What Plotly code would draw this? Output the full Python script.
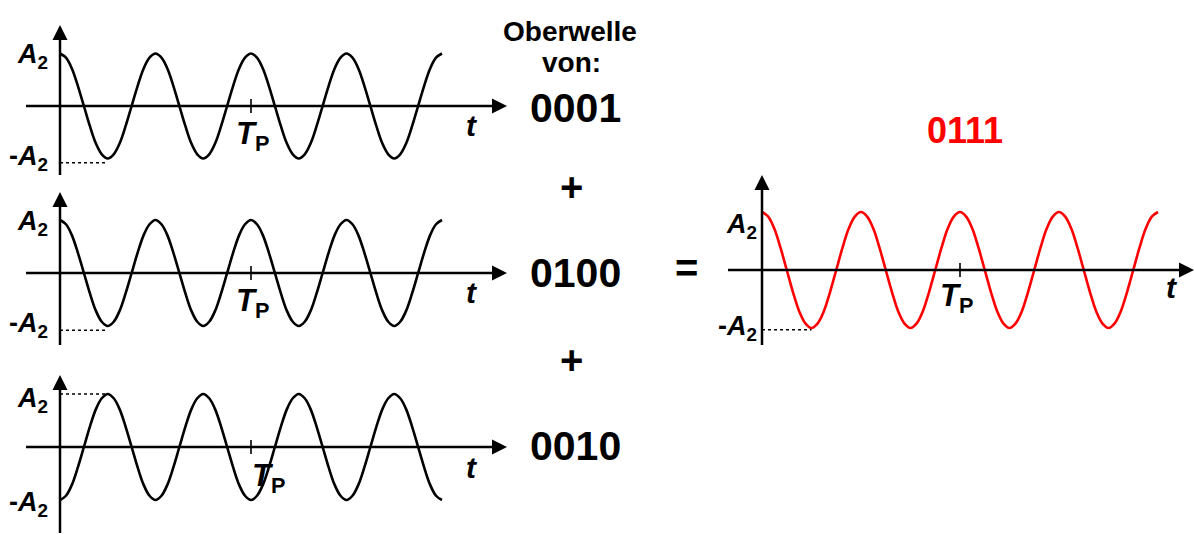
import plotly.graph_objects as go

W, H = 1195, 534
FONT = "Liberation Sans, Arial, sans-serif"

# sampling instants, in fundamental periods (16 per period)
t_periods = [0.0, 0.0625, 0.125, 0.1875, 0.25, 0.3125, 0.375, 0.4375,
             0.5, 0.5625, 0.625, 0.6875, 0.75, 0.8125, 0.875, 0.9375,
             1.0, 1.0625, 1.125, 1.1875, 1.25, 1.3125, 1.375, 1.4375,
             1.5, 1.5625, 1.625, 1.6875, 1.75, 1.8125, 1.875, 1.9375,
             2.0, 2.0625, 2.125, 2.1875, 2.25, 2.3125, 2.375, 2.4375,
             2.5, 2.5625, 2.625, 2.6875, 2.75, 2.8125, 2.875, 2.9375,
             3.0, 3.0625, 3.125, 3.1875, 3.25, 3.3125, 3.375, 3.4375,
             3.5, 3.5625, 3.625, 3.6875, 3.75, 3.8125, 3.875, 3.9375,
             4.0]

# harmonic level (in units of A2) at each sampling instant
wave_0001 = [1.0, 0.92, 0.71, 0.38, 0.0, -0.38, -0.71, -0.92,
             -1.0, -0.92, -0.71, -0.38, 0.0, 0.38, 0.71, 0.92,
             1.0, 0.92, 0.71, 0.38, 0.0, -0.38, -0.71, -0.92,
             -1.0, -0.92, -0.71, -0.38, 0.0, 0.38, 0.71, 0.92,
             1.0, 0.92, 0.71, 0.38, 0.0, -0.38, -0.71, -0.92,
             -1.0, -0.92, -0.71, -0.38, 0.0, 0.38, 0.71, 0.92,
             1.0, 0.92, 0.71, 0.38, 0.0, -0.38, -0.71, -0.92,
             -1.0, -0.92, -0.71, -0.38, 0.0, 0.38, 0.71, 0.92,
             1.0]
wave_0100 = [1.0, 0.92, 0.71, 0.38, 0.0, -0.38, -0.71, -0.92,
             -1.0, -0.92, -0.71, -0.38, 0.0, 0.38, 0.71, 0.92,
             1.0, 0.92, 0.71, 0.38, 0.0, -0.38, -0.71, -0.92,
             -1.0, -0.92, -0.71, -0.38, 0.0, 0.38, 0.71, 0.92,
             1.0, 0.92, 0.71, 0.38, 0.0, -0.38, -0.71, -0.92,
             -1.0, -0.92, -0.71, -0.38, 0.0, 0.38, 0.71, 0.92,
             1.0, 0.92, 0.71, 0.38, 0.0, -0.38, -0.71, -0.92,
             -1.0, -0.92, -0.71, -0.38, 0.0, 0.38, 0.71, 0.92,
             1.0]
wave_0010 = [-1.0, -0.92, -0.71, -0.38, 0.0, 0.38, 0.71, 0.92,
             1.0, 0.92, 0.71, 0.38, 0.0, -0.38, -0.71, -0.92,
             -1.0, -0.92, -0.71, -0.38, 0.0, 0.38, 0.71, 0.92,
             1.0, 0.92, 0.71, 0.38, 0.0, -0.38, -0.71, -0.92,
             -1.0, -0.92, -0.71, -0.38, 0.0, 0.38, 0.71, 0.92,
             1.0, 0.92, 0.71, 0.38, 0.0, -0.38, -0.71, -0.92,
             -1.0, -0.92, -0.71, -0.38, 0.0, 0.38, 0.71, 0.92,
             1.0, 0.92, 0.71, 0.38, 0.0, -0.38, -0.71, -0.92,
             -1.0]
wave_0111 = [1.0, 0.92, 0.71, 0.38, 0.0, -0.38, -0.71, -0.92,
             -1.0, -0.92, -0.71, -0.38, 0.0, 0.38, 0.71, 0.92,
             1.0, 0.92, 0.71, 0.38, 0.0, -0.38, -0.71, -0.92,
             -1.0, -0.92, -0.71, -0.38, 0.0, 0.38, 0.71, 0.92,
             1.0, 0.92, 0.71, 0.38, 0.0, -0.38, -0.71, -0.92,
             -1.0, -0.92, -0.71, -0.38, 0.0, 0.38, 0.71, 0.92,
             1.0, 0.92, 0.71, 0.38, 0.0, -0.38, -0.71, -0.92,
             -1.0, -0.92, -0.71, -0.38, 0.0, 0.38, 0.71, 0.92,
             1.0]

codes = ["0001", "0100", "0010", "0111"]
T_P = 2.0          # pulse period, in fundamental periods
TROUGH_IDX = 8     # first extremum after t = 0 (half a period)

# panel geometry (pixels): origin, px per period, px per A2, plotting box,
# axis extents, dotted level offset, label placement
panels = [
    dict(wave=wave_0001, color="black", origin=(60, 106), sx=95.5, sy=52.5,
         box=(0, 522, 0, 182), xaxis=(26, 507), yaxis=(25, 175),
         dot_off=-0.08,
         a_top=(50, 56), a_bot=(50, 158), tp=(252.5, 136), t=(472, 125)),
    dict(wave=wave_0100, color="black", origin=(60, 273), sx=95.5, sy=53,
         box=(0, 522, 184, 352), xaxis=(26, 507), yaxis=(192, 345),
         dot_off=-0.08,
         a_top=(50, 223), a_bot=(50, 325), tp=(252.5, 303), t=(472, 292)),
    dict(wave=wave_0010, color="black", origin=(60, 447), sx=95.5, sy=53,
         box=(0, 522, 356, 534), xaxis=(26, 507), yaxis=(375, 533),
         dot_off=0.0,
         a_top=(50, 400), a_bot=(50, 504), tp=(268, 478), t=(472, 467)),
    dict(wave=wave_0111, color="#ff0000", origin=(762, 270), sx=99, sy=58,
         box=(700, 1195, 160, 360), xaxis=(728, 1194), yaxis=(175, 345),
         dot_off=-0.03,
         a_top=(759, 226), a_bot=(759, 328), tp=(957, 298), t=(1172, 287)),
]

fig = go.Figure()
annotations = []
shapes = []
layout_axes = {}
ARROW = 15   # arrowhead size, px


def px(x):
    return x / W


def py(y):
    return 1 - y / H


for i, p in enumerate(panels):
    n = "" if i == 0 else str(i + 1)
    xa, ya = "x" + n, "y" + n
    ox, oy = p["origin"]
    sx, sy = p["sx"], p["sy"]
    bx0, bx1, by0, by1 = p["box"]

    def dx(v, ox=ox, sx=sx):
        return (v - ox) / sx

    def dy(v, oy=oy, sy=sy):
        return (oy - v) / sy

    layout_axes["xaxis" + n] = dict(domain=[px(bx0), px(bx1)],
                                    range=[dx(bx0), dx(bx1)],
                                    visible=False, fixedrange=True, anchor=ya)
    layout_axes["yaxis" + n] = dict(domain=[py(by1), py(by0)],
                                    range=[dy(by1), dy(by0)],
                                    visible=False, fixedrange=True, anchor=xa)

    # time axis and amplitude axis
    xl0, xl1 = p["xaxis"]
    yl0, yl1 = p["yaxis"]
    shapes.append(dict(type="line", xref=xa, yref=ya,
                       x0=dx(xl0), x1=dx(xl1 - 6), y0=0, y1=0,
                       line=dict(color="black", width=2.5)))
    shapes.append(dict(type="line", xref=xa, yref=ya,
                       x0=0, x1=0, y0=dy(yl1), y1=dy(yl0 + 6),
                       line=dict(color="black", width=2.5)))
    # arrow heads (apex sits on the marker position)
    fig.add_trace(go.Scatter(
        x=[dx(xl1), 0], y=[0, dy(yl0)], mode="markers", xaxis=xa, yaxis=ya,
        marker=dict(symbol=["arrow-right", "arrow-up"], size=ARROW,
                    color="black", line=dict(width=0)),
        hoverinfo="skip", showlegend=False, cliponaxis=False))

    # tick at T_P
    shapes.append(dict(type="line", xref=xa, yref=ya, x0=T_P, x1=T_P,
                       y0=dy(oy - 7), y1=dy(oy + 7),
                       line=dict(color="black", width=1.6)))

    # dotted guide from the axis to the first extremum
    lvl = p["wave"][TROUGH_IDX] + p["dot_off"]
    shapes.append(dict(type="line", xref=xa, yref=ya,
                       x0=0, x1=t_periods[TROUGH_IDX], y0=lvl, y1=lvl,
                       line=dict(color="black", width=1.6, dash="dot")))

    # the harmonic itself
    fig.add_trace(go.Scatter(
        x=t_periods, y=p["wave"], mode="lines", xaxis=xa, yaxis=ya,
        line=dict(color=p["color"], width=2.6, shape="spline", smoothing=1),
        hoverinfo="skip", showlegend=False, cliponaxis=False))

    # labels
    annotations.append(dict(xref="paper", yref="paper",
                            x=px(p["a_top"][0]), y=py(p["a_top"][1]),
                            xanchor="right", yanchor="middle", showarrow=False,
                            text="<b><i>A</i><sub>2</sub></b>",
                            font=dict(family=FONT, size=27, color="black")))
    annotations.append(dict(xref="paper", yref="paper",
                            x=px(p["a_bot"][0]), y=py(p["a_bot"][1]),
                            xanchor="right", yanchor="middle", showarrow=False,
                            text="<b>-<i>A</i><sub>2</sub></b>",
                            font=dict(family=FONT, size=27, color="black")))
    annotations.append(dict(xref="paper", yref="paper",
                            x=px(p["tp"][0]), y=py(p["tp"][1]),
                            xanchor="center", yanchor="middle", showarrow=False,
                            text="<b><i>T</i><sub>P</sub></b>",
                            font=dict(family=FONT, size=31, color="black")))
    annotations.append(dict(xref="paper", yref="paper",
                            x=px(p["t"][0]), y=py(p["t"][1]),
                            xanchor="center", yanchor="middle", showarrow=False,
                            text="<b><i>t</i></b>",
                            font=dict(family=FONT, size=30, color="black")))

# middle column text
mid_text = [
    ("Oberwelle", 570, 31, 28, "black"),
    ("von:", 571, 62, 28, "black"),
    (codes[0], 575, 108, 41, "black"),
    ("+", 571, 187, 40, "black"),
    (codes[1], 575, 273, 41, "black"),
    ("+", 571, 360, 40, "black"),
    (codes[2], 575, 446, 41, "black"),
    ("=", 686, 268, 40, "black"),
    (codes[3], 965, 130, 36, "#ff0000"),
]
for txt, x, y, size, col in mid_text:
    annotations.append(dict(xref="paper", yref="paper", x=px(x), y=py(y),
                            xanchor="center", yanchor="middle", showarrow=False,
                            text="<b>" + txt + "</b>",
                            font=dict(family=FONT, size=size, color=col)))

fig.update_layout(
    width=W, height=H, margin=dict(l=0, r=0, t=0, b=0),
    paper_bgcolor="white", plot_bgcolor="rgba(0,0,0,0)",
    showlegend=False, annotations=annotations, shapes=shapes,
    **layout_axes)

fig.write_html("out.html", config=dict(displayModeBar=False))
